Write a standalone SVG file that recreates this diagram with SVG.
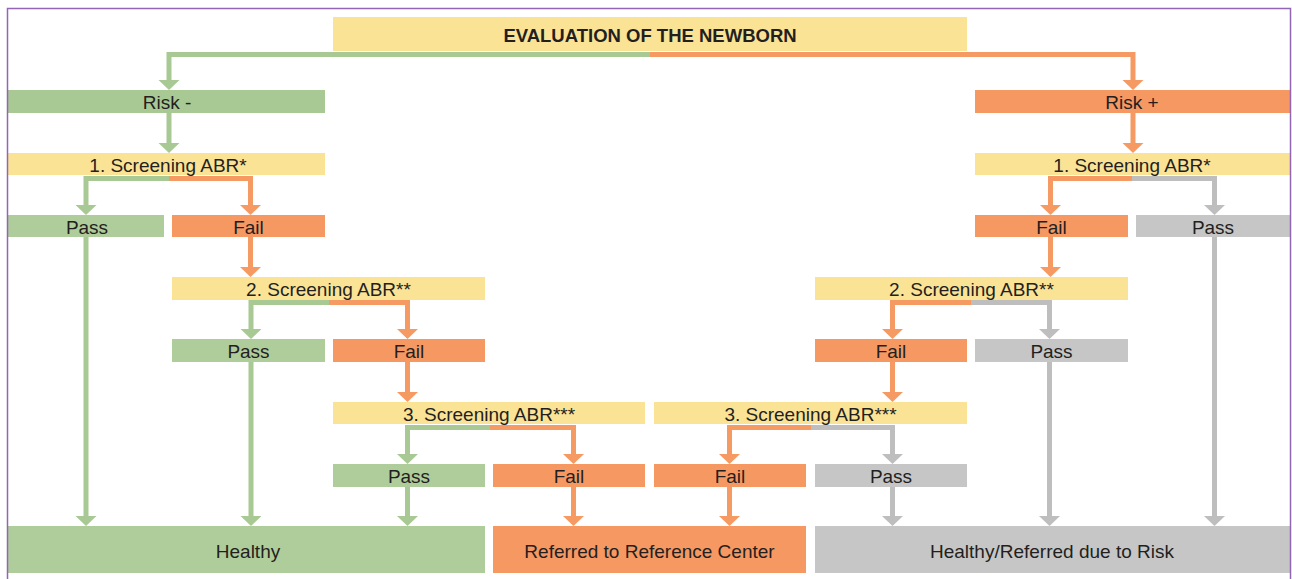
<svg xmlns="http://www.w3.org/2000/svg" width="1292" height="579" viewBox="0 0 1292 579">
<style>
.t{font-family:"Liberation Sans",Arial,sans-serif;font-size:19px;fill:#231F20;text-anchor:middle}
.tb{font-family:"Liberation Sans",Arial,sans-serif;font-size:18.5px;font-weight:bold;fill:#231F20;text-anchor:middle}
.y{fill:#FBE396}.g{fill:#AFCD9B}.gd{fill:#A8C894}.o{fill:#F69862}.gr{fill:#C6C6C6}
.cg{fill:none;stroke:#A9C994;stroke-width:5;marker-end:url(#ag)}
.co{fill:none;stroke:#F59A63;stroke-width:5;marker-end:url(#ao)}
.cr{fill:none;stroke:#BEBEBE;stroke-width:5;marker-end:url(#ar)}
.cgn{fill:none;stroke:#A9C994;stroke-width:5}
.con{fill:none;stroke:#F59A63;stroke-width:5}
</style>
<defs>
<marker id="ag" markerUnits="userSpaceOnUse" viewBox="0 -11 10 22" markerWidth="10" markerHeight="22" refX="0" refY="0" orient="auto"><path d="M0,-10.5 L10,0 L0,10.5 Z" fill="#A9C994"/></marker>
<marker id="ao" markerUnits="userSpaceOnUse" viewBox="0 -11 10 22" markerWidth="10" markerHeight="22" refX="0" refY="0" orient="auto"><path d="M0,-10.5 L10,0 L0,10.5 Z" fill="#F59A63"/></marker>
<marker id="ar" markerUnits="userSpaceOnUse" viewBox="0 -11 10 22" markerWidth="10" markerHeight="22" refX="0" refY="0" orient="auto"><path d="M0,-10.5 L10,0 L0,10.5 Z" fill="#BEBEBE"/></marker>
</defs>
<rect x="0" y="0" width="1292" height="579" fill="#FFFFFF"/>

<g id="connectors">
<path class="cg" d="M650,54.5 H169 V80"/>
<path class="co" d="M650,54.5 H1133 V80"/>
<path class="cg" d="M169,113 V143"/>
<path class="co" d="M1133,113 V143"/>
<path class="cg" d="M169,178.5 H86 V205"/>
<path class="co" d="M169,178.5 H250.5 V205"/>
<path class="cg" d="M86,237 V516"/>
<path class="co" d="M250.5,237 V267"/>
<path class="cg" d="M329,302.5 H251 V329"/>
<path class="co" d="M329,302.5 H407.5 V329"/>
<path class="cg" d="M251,362 V516"/>
<path class="co" d="M407.5,362 V392"/>
<path class="cg" d="M490,427.5 H407.5 V454"/>
<path class="co" d="M490,427.5 H573.5 V454"/>
<path class="cg" d="M407.5,487 V516"/>
<path class="co" d="M573.5,487 V516"/>
<path class="co" d="M1132,178.5 H1050.5 V205"/>
<path class="cr" d="M1132,178.5 H1214.5 V205"/>
<path class="co" d="M1050.5,237 V267"/>
<path class="cr" d="M1214.5,237 V516"/>
<path class="co" d="M971,302.5 H892.5 V329"/>
<path class="cr" d="M971,302.5 H1049.5 V329"/>
<path class="co" d="M892.5,362 V392"/>
<path class="cr" d="M1049.5,362 V516"/>
<path class="co" d="M811,427.5 H729.5 V454"/>
<path class="cr" d="M811,427.5 H892.5 V454"/>
<path class="co" d="M729.5,487 V516"/>
<path class="cr" d="M892.5,487 V516"/>
</g>

<g id="title"><rect class="y" x="333" y="17" width="634" height="34"/><text class="tb" x="650" y="42">EVALUATION OF THE NEWBORN</text></g>

<g id="risk-neg"><rect class="gd" x="8" y="90" width="317" height="23"/><text class="t" x="167" y="109">Risk -</text></g>
<g id="risk-pos"><rect class="o" x="975" y="90" width="315" height="23"/><text class="t" x="1132" y="109">Risk +</text></g>

<g id="scr1-left"><rect class="y" x="8" y="153" width="317" height="22"/><text class="t" x="168" y="171.5">1. Screening ABR*</text></g>
<g id="scr1-right"><rect class="y" x="975" y="153" width="315" height="22"/><text class="t" x="1132" y="171.5">1. Screening ABR*</text></g>

<g id="pass1-left"><rect class="g" x="8" y="215" width="156" height="22"/><text class="t" x="87" y="233.5">Pass</text></g>
<g id="fail1-left"><rect class="o" x="172" y="215" width="153" height="22"/><text class="t" x="248.5" y="233.5">Fail</text></g>
<g id="fail1-right"><rect class="o" x="975" y="215" width="153" height="22"/><text class="t" x="1051.5" y="233.5">Fail</text></g>
<g id="pass1-right"><rect class="gr" x="1136" y="215" width="154" height="22"/><text class="t" x="1213" y="233.5">Pass</text></g>

<g id="scr2-left"><rect class="y" x="172" y="277" width="313" height="23"/><text class="t" x="328.5" y="296">2. Screening ABR**</text></g>
<g id="scr2-right"><rect class="y" x="815" y="277" width="313" height="23"/><text class="t" x="971.5" y="296">2. Screening ABR**</text></g>

<g id="pass2-left"><rect class="g" x="172" y="339" width="153" height="23"/><text class="t" x="248.5" y="358">Pass</text></g>
<g id="fail2-left"><rect class="o" x="333" y="339" width="152" height="23"/><text class="t" x="409" y="358">Fail</text></g>
<g id="fail2-right"><rect class="o" x="815" y="339" width="152" height="23"/><text class="t" x="891" y="358">Fail</text></g>
<g id="pass2-right"><rect class="gr" x="975" y="339" width="153" height="23"/><text class="t" x="1051.5" y="358">Pass</text></g>

<g id="scr3-left"><rect class="y" x="333" y="402" width="312" height="22"/><text class="t" x="489" y="420.5">3. Screening ABR***</text></g>
<g id="scr3-right"><rect class="y" x="654" y="402" width="313" height="22"/><text class="t" x="810.5" y="420.5">3. Screening ABR***</text></g>

<g id="pass3-left"><rect class="g" x="333" y="464" width="152" height="23"/><text class="t" x="409" y="483">Pass</text></g>
<g id="fail3-left"><rect class="o" x="493" y="464" width="152" height="23"/><text class="t" x="569" y="483">Fail</text></g>
<g id="fail3-right"><rect class="o" x="654" y="464" width="152" height="23"/><text class="t" x="730" y="483">Fail</text></g>
<g id="pass3-right"><rect class="gr" x="815" y="464" width="152" height="23"/><text class="t" x="891" y="483">Pass</text></g>

<g id="healthy"><rect class="g" x="8" y="526" width="477" height="47"/><text class="t" x="248" y="558">Healthy</text></g>
<g id="referred"><rect class="o" x="493" y="526" width="313" height="47"/><text class="t" x="649.5" y="558">Referred to Reference Center</text></g>
<g id="healthy-risk"><rect class="gr" x="815" y="526" width="475" height="47"/><text class="t" x="1052" y="558">Healthy/Referred due to Risk</text></g>

<rect x="7.5" y="8.5" width="1283" height="600" fill="none" stroke="#9365B8" stroke-width="1.5"/>
</svg>
